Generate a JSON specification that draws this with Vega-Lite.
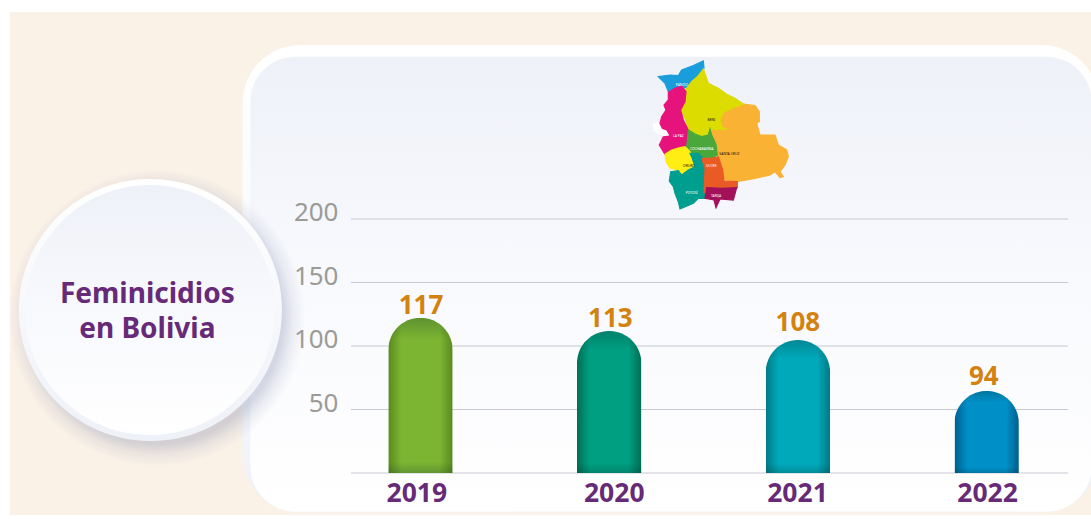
{"$schema":"https://vega.github.io/schema/vega-lite/v6.json","autosize":{"type":"none"},"padding":{"left":351,"top":219,"right":23,"bottom":46},"width":717,"height":254,"background":"#ffffff","view":{"stroke":null},"resolve":{"scale":{"x":"independent","y":"independent"}},"datasets":{"anios":[{"anio":2019,"casos":117,"altura":122.3,"yEtiqueta":125.2,"xEtiqueta":2019.003},{"anio":2020,"casos":113,"altura":111.8,"yEtiqueta":115.2,"xEtiqueta":2020.006},{"anio":2021,"casos":108,"altura":104.7,"yEtiqueta":111.8,"xEtiqueta":2021},{"anio":2022,"casos":94,"altura":64.6,"yEtiqueta":69.3,"xEtiqueta":2021.985}],"grid":[{"v":0},{"v":50},{"v":100},{"v":150},{"v":200}],"deptos":[{"d":"Pando","c":"#1a9ddb","u":[55,90,115,125,160,190,192,175,155,143,140,105,85,75],"v":[65,60,62,45,32,18,40,62,78,90,98,100,110,85]},{"d":"Santa Cruz","c":"#f9b233","u":[310,345,358,358,350,360,405,415,440,445,435,420,430,420,405,390,345,290,255,248,240,232,228,212,258,245,240,250,280],"v":[147,152,170,200,205,240,240,270,285,305,330,350,365,368,350,360,370,380,375,345,320,300,268,225,222,215,190,172,158]},{"d":"Beni","c":"#dcdc00","u":[190,205,235,260,285,310,280,250,240,245,258,215,205,185,165,145,135,122,135,140,155,175],"v":[42,85,100,118,130,147,158,172,195,215,222,224,240,245,235,222,190,165,130,100,80,62]},{"d":"La Paz","c":"#e6137c","u":[85,105,125,138,135,122,130,145,142,145,120,90,75,58,70,72,60,65,78,72,85],"v":[112,100,93,110,140,165,195,225,258,275,278,290,298,270,245,230,205,185,165,150,135]},{"d":"Titicaca","c":"#ffffff","u":[40,52,62,78,85,70,58,42],"v":[208,204,222,228,240,242,236,226]},{"d":"Cochabamba","c":"#4aa83a","u":[145,165,185,205,210,215,228,232,215,195,185,165,150,140,142],"v":[225,237,245,240,222,240,268,300,310,315,305,295,290,275,258]},{"d":"Oruro","c":"#ffed13","u":[75,95,120,135,150,155,165,145,125,115,90,78],"v":[298,285,278,275,290,305,335,345,360,345,340,320]},{"d":"Potosi","c":"#009e8e","u":[150,175,190,195,195,195,175,160,120,115,105,100,88,92,115,125,145,165,155],"v":[295,295,310,340,395,430,430,445,462,440,415,395,378,350,347,360,345,335,305]},{"d":"Chuquisaca","c":"#e95a24","u":[185,215,235,248,252,292,292,245,200,192,195],"v":[310,310,305,345,378,380,398,400,398,415,340]},{"d":"Tarija","c":"#a3115a","u":[200,245,290,280,240,228,222,195],"v":[398,400,398,435,432,458,435,430]}],"etiquetas":[{"t":"PANDO","u":125,"v":90,"c":"#ffffff"},{"t":"BENI","u":214,"v":196,"c":"#111111"},{"t":"LA PAZ","u":115,"v":243,"c":"#ffffff"},{"t":"COCHABAMBA","u":185,"v":283,"c":"#ffffff"},{"t":"SANTA CRUZ","u":268,"v":298,"c":"#111111"},{"t":"ORURO","u":147,"v":333,"c":"#111111"},{"t":"SUCRE","u":214,"v":333,"c":"#ffffff"},{"t":"POTOSÍ","u":155,"v":415,"c":"#ffffff"},{"t":"TARIJA","u":228,"v":424,"c":"#ffffff"}]},"layer":[{"layer":[{"data":{"values":[{"x0":2016.825,"x1":2022.553,"y0":-33.07,"y1":363}]},"mark":{"type":"rect","fill":"#faf1e7"},"encoding":{"x":{"field":"x0","type":"quantitative","scale":{"domain":[2018.632,2022.431],"nice":false,"zero":false,"padding":0},"axis":{"values":[2018.978,2020.024,2020.995,2022.002],"title":null,"domain":false,"ticks":false,"grid":false,"labelExpr":"format(round(datum.value),'d')","labelFont":"Noto Sans","labelFontWeight":"bold","labelFontSize":26.5,"labelColor":"#662a78","labelPadding":7,"labelFlush":false,"labelOverlap":false,"labelBound":false,"zindex":1}},"x2":{"field":"x1"},"y":{"field":"y0","type":"quantitative","scale":{"domain":[0,200],"nice":false},"axis":{"values":[50,100,150,200],"title":null,"domain":false,"ticks":false,"grid":false,"labelFont":"Noto Sans","labelFontSize":26,"labelColor":"#9b9b98","labelPadding":13,"labelOffset":-6.5,"labelOverlap":false,"labelFlush":false,"zindex":1}},"y2":{"field":"y1"}}},{"data":{"values":[{"x0":2018.057,"x1":2022.596,"y0":-31.1,"y1":337}]},"mark":{"type":"rect","cornerRadius":58,"fill":{"gradient":"linear","x1":0,"y1":0,"x2":0,"y2":1,"stops":[{"offset":0,"color":"#ffffff"},{"offset":0.6,"color":"#f8f9fc"},{"offset":1,"color":"#eef1f7"}]}},"encoding":{"x":{"field":"x0","type":"quantitative"},"x2":{"field":"x1"},"y":{"field":"y0","type":"quantitative"},"y2":{"field":"y1"}}},{"data":{"values":[{"x0":2018.099,"x1":2022.556,"y0":-30.47,"y1":327.8}]},"mark":{"type":"rect","cornerRadius":45,"fill":{"gradient":"linear","x1":0,"y1":0,"x2":0,"y2":1,"stops":[{"offset":0,"color":"#eef1f8"},{"offset":0.45,"color":"#f8f9fd"},{"offset":1,"color":"#ffffff"}]}},"encoding":{"x":{"field":"x0","type":"quantitative"},"x2":{"field":"x1"},"y":{"field":"y0","type":"quantitative"},"y2":{"field":"y1"}}},{"data":{"values":[{"x0":2016.819,"x1":2018.388,"y0":5.5,"y1":238.6}]},"mark":{"type":"rect","fill":{"gradient":"radial","x1":0.5,"y1":0.5,"r1":0,"x2":0.5,"y2":0.5,"r2":0.5,"stops":[{"offset":0,"color":"rgba(120,130,165,0.3)"},{"offset":0.85,"color":"rgba(120,130,165,0.3)"},{"offset":0.92,"color":"rgba(120,130,165,0.12)"},{"offset":1,"color":"rgba(120,130,165,0)"}]}},"encoding":{"x":{"field":"x0","type":"quantitative"},"x2":{"field":"x1"},"y":{"field":"y0","type":"quantitative"},"y2":{"field":"y1"}}},{"data":{"values":[{"x0":2016.872,"x1":2018.266,"y0":25.2,"y1":231.5}]},"mark":{"type":"rect","cornerRadius":131.5,"fill":{"gradient":"linear","x1":0,"y1":0,"x2":0,"y2":1,"stops":[{"offset":0,"color":"#ffffff"},{"offset":0.5,"color":"#f7f8fc"},{"offset":1,"color":"#eef1f8"}]}},"encoding":{"x":{"field":"x0","type":"quantitative"},"x2":{"field":"x1"},"y":{"field":"y0","type":"quantitative"},"y2":{"field":"y1"}}},{"data":{"values":[{"x0":2016.904,"x1":2018.229,"y0":29.9,"y1":226.8}]},"mark":{"type":"rect","cornerRadius":125,"fill":{"gradient":"linear","x1":0,"y1":0,"x2":0,"y2":1,"stops":[{"offset":0,"color":"#eef1f8"},{"offset":0.5,"color":"#f8f9fd"},{"offset":1,"color":"#ffffff"}]}},"encoding":{"x":{"field":"x0","type":"quantitative"},"x2":{"field":"x1"},"y":{"field":"y0","type":"quantitative"},"y2":{"field":"y1"}}},{"data":{"values":[{"t":"Feminicidios","x":2017.553,"y":133.6},{"t":"en Bolivia","x":2017.553,"y":106}]},"mark":{"type":"text","font":"Noto Sans","fontWeight":"bold","fontSize":28,"color":"#662a78","align":"center","baseline":"alphabetic"},"encoding":{"x":{"field":"x","type":"quantitative"},"y":{"field":"y","type":"quantitative"},"text":{"field":"t"}}},{"data":{"name":"grid"},"mark":{"type":"rule","color":"#c8c8d2","strokeWidth":1.2},"encoding":{"y":{"field":"v","type":"quantitative"}}},{"data":{"name":"anios"},"transform":[{"filter":"datum.anio==2019"}],"mark":{"type":"bar","width":64.4,"cornerRadiusTopLeft":32.2,"cornerRadiusTopRight":32.2,"orient":"vertical","fill":{"gradient":"linear","x1":0,"y1":0,"x2":1,"y2":0,"stops":[{"offset":0,"color":"#5a8a1e"},{"offset":0.2,"color":"#7cb532"},{"offset":0.8,"color":"#7cb532"},{"offset":1,"color":"#5a8a1e"}]}},"encoding":{"x":{"field":"anio","type":"quantitative"},"y":{"field":"altura","type":"quantitative"}}},{"data":{"name":"anios"},"transform":[{"filter":"datum.anio==2020"}],"mark":{"type":"bar","width":64.4,"cornerRadiusTopLeft":32.2,"cornerRadiusTopRight":32.2,"orient":"vertical","fill":{"gradient":"linear","x1":0,"y1":0,"x2":1,"y2":0,"stops":[{"offset":0,"color":"#006f55"},{"offset":0.2,"color":"#009f82"},{"offset":0.8,"color":"#009f82"},{"offset":1,"color":"#006f55"}]}},"encoding":{"x":{"field":"anio","type":"quantitative"},"y":{"field":"altura","type":"quantitative"}}},{"data":{"name":"anios"},"transform":[{"filter":"datum.anio==2021"}],"mark":{"type":"bar","width":64.4,"cornerRadiusTopLeft":32.2,"cornerRadiusTopRight":32.2,"orient":"vertical","fill":{"gradient":"linear","x1":0,"y1":0,"x2":1,"y2":0,"stops":[{"offset":0,"color":"#007a85"},{"offset":0.2,"color":"#00a9ba"},{"offset":0.8,"color":"#00a9ba"},{"offset":1,"color":"#007a85"}]}},"encoding":{"x":{"field":"anio","type":"quantitative"},"y":{"field":"altura","type":"quantitative"}}},{"data":{"name":"anios"},"transform":[{"filter":"datum.anio==2022"}],"mark":{"type":"bar","width":64.4,"cornerRadiusTopLeft":32.2,"cornerRadiusTopRight":32.2,"orient":"vertical","fill":{"gradient":"linear","x1":0,"y1":0,"x2":1,"y2":0,"stops":[{"offset":0,"color":"#005f8c"},{"offset":0.2,"color":"#0090c8"},{"offset":0.8,"color":"#0090c8"},{"offset":1,"color":"#005f8c"}]}},"encoding":{"x":{"field":"anio","type":"quantitative"},"y":{"field":"altura","type":"quantitative"}}},{"data":{"name":"anios"},"mark":{"type":"bar","width":64.4,"cornerRadiusTopLeft":32.2,"cornerRadiusTopRight":32.2,"orient":"vertical","fill":{"gradient":"linear","x1":0,"y1":0,"x2":0,"y2":1,"stops":[{"offset":0,"color":"rgba(0,40,40,0.25)"},{"offset":0.14,"color":"rgba(0,40,40,0)"},{"offset":0.93,"color":"rgba(0,40,40,0)"},{"offset":1,"color":"rgba(0,40,40,0.22)"}]}},"encoding":{"x":{"field":"anio","type":"quantitative"},"y":{"field":"altura","type":"quantitative"}}},{"data":{"name":"anios"},"mark":{"type":"text","font":"Noto Sans","fontWeight":"bold","fontSize":26,"color":"#d4820f","align":"center","baseline":"alphabetic"},"encoding":{"x":{"field":"xEtiqueta","type":"quantitative"},"y":{"field":"yEtiqueta","type":"quantitative"},"text":{"field":"casos"}}}]},{"layer":[{"data":{"name":"deptos"},"transform":[{"flatten":["u","v"]},{"window":[{"op":"row_number","as":"o"}],"groupby":["d"]}],"mark":{"type":"line","filled":true,"strokeWidth":1.2,"interpolate":"linear-closed"},"encoding":{"x":{"field":"u","type":"quantitative","scale":{"domain":[-867,1284],"nice":false,"zero":false},"axis":null},"y":{"field":"v","type":"quantitative","scale":{"domain":[492,1254],"nice":false,"zero":false,"reverse":true},"axis":null},"order":{"field":"o","type":"quantitative"},"detail":{"field":"d"},"color":{"field":"c","type":"nominal","scale":null},"stroke":{"field":"c","type":"nominal","scale":null}}},{"data":{"name":"etiquetas"},"mark":{"type":"text","font":"Noto Sans","fontSize":3.4,"align":"center","baseline":"middle"},"encoding":{"x":{"field":"u","type":"quantitative","axis":null},"y":{"field":"v","type":"quantitative","axis":null},"text":{"field":"t"},"color":{"field":"c","type":"nominal","scale":null}}}]}]}
